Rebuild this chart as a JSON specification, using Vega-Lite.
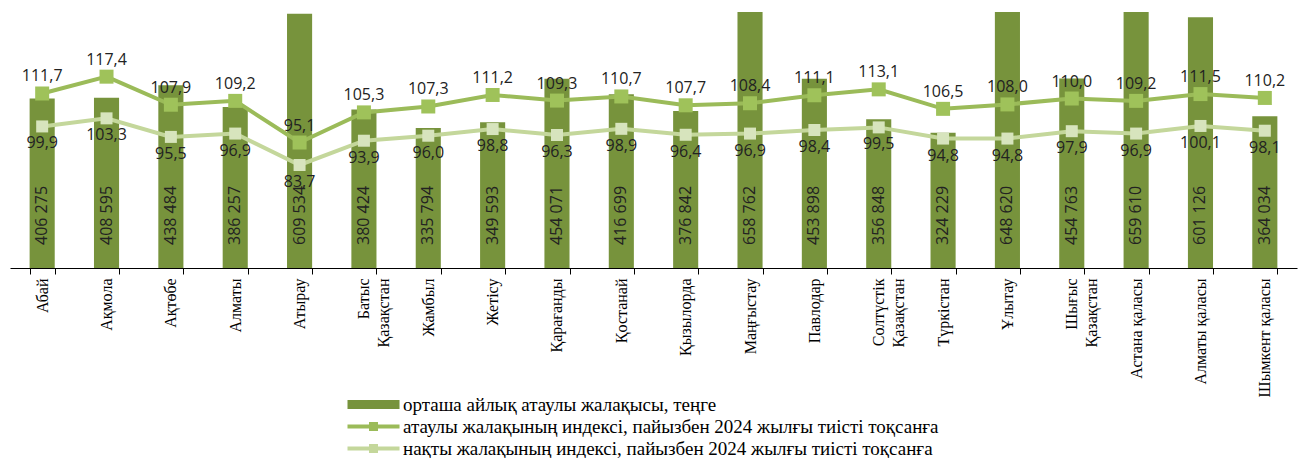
{
  "$schema": "https://vega.github.io/schema/vega-lite/v6.json",
  "description": "Average monthly nominal wage by region with nominal and real wage indices.",
  "autosize": {"type": "none"},
  "padding": {"left": 10, "top": 12, "right": 15, "bottom": 190},
  "width": 1287,
  "height": 256,
  "data": {
    "values": [
      {"region": "Абай", "wage": 406275, "nominal": 111.7, "real": 99.9},
      {"region": "Ақмола", "wage": 408595, "nominal": 117.4, "real": 103.3},
      {"region": "Ақтөбе", "wage": 438484, "nominal": 107.9, "real": 95.5},
      {"region": "Алматы", "wage": 386257, "nominal": 109.2, "real": 96.9},
      {"region": "Атырау", "wage": 609534, "nominal": 95.1, "real": 83.7},
      {"region": "Батыс Қазақстан", "wage": 380424, "nominal": 105.3, "real": 93.9},
      {"region": "Жамбыл", "wage": 335794, "nominal": 107.3, "real": 96.0},
      {"region": "Жетісу", "wage": 349593, "nominal": 111.2, "real": 98.8},
      {"region": "Қарағанды", "wage": 454071, "nominal": 109.3, "real": 96.3},
      {"region": "Қостанай", "wage": 416699, "nominal": 110.7, "real": 98.9},
      {"region": "Қызылорда", "wage": 376842, "nominal": 107.7, "real": 96.4},
      {"region": "Маңғыстау", "wage": 658762, "nominal": 108.4, "real": 96.9},
      {"region": "Павлодар", "wage": 453898, "nominal": 111.1, "real": 98.4},
      {"region": "Солтүстік Қазақстан", "wage": 356848, "nominal": 113.1, "real": 99.5},
      {"region": "Түркістан", "wage": 324229, "nominal": 106.5, "real": 94.8},
      {"region": "Ұлытау", "wage": 648620, "nominal": 108.0, "real": 94.8},
      {"region": "Шығыс Қазақстан", "wage": 454763, "nominal": 110.0, "real": 97.9},
      {"region": "Астана қаласы", "wage": 659610, "nominal": 109.2, "real": 96.9},
      {"region": "Алматы қаласы", "wage": 601126, "nominal": 111.5, "real": 100.1},
      {"region": "Шымкент қаласы", "wage": 364034, "nominal": 110.2, "real": 98.1}
    ]
  },
  "encoding": {
    "x": {
      "field": "region",
      "type": "nominal",
      "sort": null,
      "scale": {"paddingInner": 0.61, "paddingOuter": 0.305},
      "axis": {
        "title": null,
        "domainColor": "#000000",
        "tickColor": "#000000",
        "tickSize": 6,
        "tickBand": "extent",
        "labelAngle": -90,
        "labelAlign": "right",
        "labelBaseline": "middle",
        "labelPadding": 4,
        "labelFont": "Liberation Serif",
        "labelFontSize": 16,
        "labelColor": "#000000",
        "labelLineHeight": 20,
        "labelLimit": 200,
        "labelExpr": "indexof(datum.label, ' Қазақстан') > 0 ? split(datum.label, ' ') : datum.label"
      }
    }
  },
  "layer": [
    {
      "encoding": {
        "y": {"field": "wage", "type": "quantitative", "scale": {"domain": [0, 614000]}, "axis": null}
      },
      "layer": [
        {
          "mark": {"type": "bar", "clip": true},
          "encoding": {
            "color": {
              "datum": "орташа айлық атаулы жалақысы, теңге",
              "scale": {
                "domain": [
                  "орташа айлық атаулы жалақысы, теңге",
                  "атаулы жалақының индексі, пайызбен 2024  жылғы тиісті  тоқсанға",
                  "нақты жалақының индексі, пайызбен 2024 жылғы тиісті  тоқсанға"
                ],
                "range": ["#77933c", "#9bbb59", "#c4d79b"]
              },
              "legend": {
                "orient": "none",
                "legendX": 337,
                "legendY": 383,
                "title": null,
                "labelFont": "Liberation Serif",
                "labelFontSize": 19,
                "labelColor": "#000000",
                "labelOffset": 37,
                "symbolSize": 324,
                "rowPadding": 2,
                "labelLimit": 800,
                "encode": {
                  "symbols": {
                    "update": {
                      "shape": {"signal": "datum.index === 0 ? 'M-1,-0.5H4.78V0.5H-1Z' : 'M-1,-0.22H1.39V-0.5H2.39V-0.22H4.78V0.22H2.39V0.5H1.39V0.22H-1Z'"},
                      "fill": {"signal": "scale('color', datum.value)"},
                      "stroke": {"value": "transparent"},
                      "strokeWidth": {"value": 0},
                      "opacity": {"value": 1}
                    }
                  }
                }
              }
            }
          }
        },
        {
          "mark": {"type": "text", "angle": -90, "align": "left", "baseline": "middle", "dx": 23, "font": "Open Sans", "fontSize": 16, "color": "#222222"},
          "encoding": {
            "y": {"datum": 0},
            "text": {"field": "wage", "type": "quantitative", "format": ",d"}
          }
        }
      ]
    },
    {
      "encoding": {
        "y": {"field": "nominal", "type": "quantitative", "scale": {"domain": [52.6, 139.3], "zero": false}, "axis": null}
      },
      "layer": [
        {
          "mark": {"type": "line", "strokeWidth": 4},
          "encoding": {
            "color": {"datum": "атаулы жалақының индексі, пайызбен 2024  жылғы тиісті  тоқсанға"}
          }
        },
        {
          "mark": {"type": "point", "shape": "square", "filled": true, "size": 196, "opacity": 1, "color": "#9fc25a"}
        },
        {
          "mark": {"type": "text", "dy": -17, "font": "Open Sans", "fontSize": 16, "color": "#222222"},
          "encoding": {
            "text": {"field": "nominal", "type": "quantitative", "format": ".1f"}
          }
        }
      ]
    },
    {
      "encoding": {
        "y": {"field": "real", "type": "quantitative", "scale": {"domain": [40.4, 148.0], "zero": false}, "axis": null}
      },
      "layer": [
        {
          "mark": {"type": "line", "strokeWidth": 4},
          "encoding": {
            "color": {"datum": "нақты жалақының индексі, пайызбен 2024 жылғы тиісті  тоқсанға"}
          }
        },
        {
          "mark": {"type": "point", "shape": "square", "filled": true, "size": 144, "opacity": 1, "color": "#d7e4bd"}
        },
        {
          "mark": {"type": "text", "dy": 17, "font": "Open Sans", "fontSize": 16, "color": "#222222"},
          "encoding": {
            "text": {"field": "real", "type": "quantitative", "format": ".1f"}
          }
        }
      ]
    }
  ],
  "resolve": {"scale": {"y": "independent"}},
  "config": {
    "view": {"stroke": null},
    "locale": {
      "number": {"decimal": ",", "thousands": " ", "grouping": [3], "currency": ["", ""]}
    }
  }
}
